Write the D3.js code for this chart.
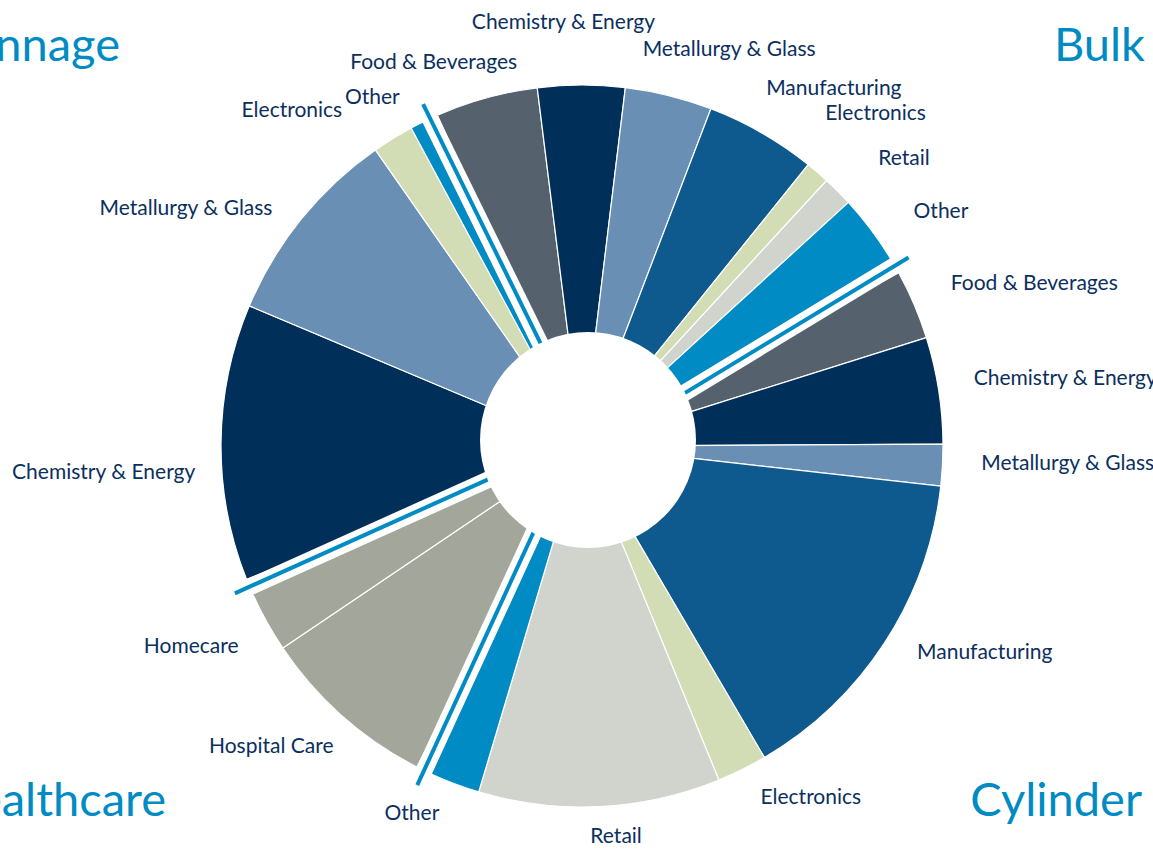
<!DOCTYPE html>
<html>
<head>
<meta charset="utf-8">
<script src="https://cdn.jsdelivr.net/npm/d3@7"></script>
<style>
  html, body { margin: 0; padding: 0; background: #fff; }
  svg { display: block; }
</style>
</head>
<body>
<svg id="chart" width="1153" height="849"></svg>
<script>
// ---- Data: sales share (%) by end-market, per business segment, clockwise from Bulk ----
const groupNames = ["Bulk", "Cylinder", "Healthcare", "Tonnage"];

const bulkSectors = ["Food & Beverages", "Chemistry & Energy", "Metallurgy & Glass", "Manufacturing", "Electronics", "Retail", "Other"];
const bulkShares  = [4.7, 4.0, 4.0, 5.1, 1.1, 1.4, 3.2];

const cylinderSectors = ["Food & Beverages", "Chemistry & Energy", "Metallurgy & Glass", "Manufacturing", "Electronics", "Retail", "Other"];
const cylinderShares  = [3.2, 4.9, 1.9, 15.2, 2.3, 11.1, 2.3];

const healthcareSectors = ["Hospital Care", "Homecare"];
const healthcareShares  = [8.2, 2.8];

const tonnageSectors = ["Chemistry & Energy", "Metallurgy & Glass", "Electronics", "Other"];
const tonnageShares  = [12.7, 9.2, 1.9, 0.6];

// ---- Styling ----
const sectorColors = {
  "Food & Beverages":   "#56616e",
  "Chemistry & Energy": "#00305a",
  "Metallurgy & Glass": "#6a8fb5",
  "Manufacturing":      "#0e5a8e",
  "Electronics":        "#d3ddb5",
  "Retail":             "#d1d4cd",
  "Other":              "#008bc5",
  "Hospital Care":      "#a3a69b",
  "Homecare":           "#a3a69b"
};
const accent = "#008bc5";
const labelColor = "#0b2f5e";

// ---- Geometry ----
const width = 1153, height = 849;
const cx = 582, cy = 446;
const outerR = 361, innerR = 92;
const holeCenter = [588, 440], holeR = 108;
const gapPx = 16;                     // width of the band between segments
const gapAngle = gapPx / outerR;      // angle the band takes at the rim
const rad = d => d * Math.PI / 180;
const startAngle = rad(-23.6);

// Label anchors: [angle in degrees clockwise from 12 o'clock, distance from centre]
const labelPolar = [
  [-21.1, 412], [-2.5, 425], [20.3, 424], [35.1, 438], [41.4, 444], [48.2, 432], [56.8, 429],
  [70.1, 481], [82.0, 488], [92.0, 486], [117.0, 452], [146.9, 419], [175.0, 391], [204.9, 404],
  [226.0, 432], [242.9, 439],
  [266.9, 479], [301.0, 462], [319.2, 444], [329.0, 407]
];

// Segment title placement (right edge x, baseline y)
const titlePlacement = {
  "Tonnage":    [120, 61],
  "Bulk":       [1145, 61],
  "Healthcare": [166, 816],
  "Cylinder":   [1142, 816]
};

const groups = [
  { name: "Bulk",       sectors: bulkSectors,       shares: bulkShares },
  { name: "Cylinder",   sectors: cylinderSectors,   shares: cylinderShares },
  { name: "Healthcare", sectors: healthcareSectors, shares: healthcareShares },
  { name: "Tonnage",    sectors: tonnageSectors,    shares: tonnageShares }
];

const total = d3.sum(groups, g => d3.sum(g.shares));
const perUnit = (2 * Math.PI - groups.length * gapAngle) / total;

// Lay each segment out with its own pie, leaving a band after each one
const slices = [];
const boundaries = [];
let a = startAngle;
groups.forEach(g => {
  const span = d3.sum(g.shares) * perUnit;
  const pie = d3.pie().sort(null).value(d => d.value).startAngle(a).endAngle(a + span);
  const items = g.sectors.map((s, i) => ({ group: g.name, sector: s, value: g.shares[i] }));
  slices.push(...pie(items));
  a += span;
  boundaries.push(a);
  a += gapAngle;
});

const svg = d3.select("#chart");
const g = svg.append("g").attr("transform", `translate(${cx},${cy})`);

const arc = d3.arc().innerRadius(innerR).outerRadius(outerR);

g.selectAll("path.slice")
  .data(slices)
  .join("path")
  .attr("class", "slice")
  .attr("d", arc)
  .attr("fill", d => sectorColors[d.data.sector])
  .attr("stroke", "#fff")
  .attr("stroke-width", 1.2)
  .attr("stroke-linejoin", "round");

// Bands between business segments, each with an accent rule along its middle
const polar = (ang, r) => [Math.sin(ang) * r, -Math.cos(ang) * r];
const sep = g.selectAll("g.sep").data(boundaries).join("g").attr("class", "sep");

sep.append("path")
  .attr("fill", "#fff")
  .attr("d", phi => {
    const u = [Math.sin(phi), -Math.cos(phi)];
    const n = [Math.cos(phi), Math.sin(phi)];
    const L = outerR + 4;
    const pts = [
      [0, 0],
      [u[0] * L, u[1] * L],
      [u[0] * L + n[0] * gapPx, u[1] * L + n[1] * gapPx],
      [n[0] * gapPx, n[1] * gapPx]
    ];
    return d3.line()(pts) + "Z";
  });

sep.append("line")
  .attr("stroke", accent)
  .attr("stroke-width", 4)
  .each(function (phi) {
    const u = [Math.sin(phi), -Math.cos(phi)];
    const n = [Math.cos(phi), Math.sin(phi)];
    const off = gapPx / 2;
    d3.select(this)
      .attr("x1", u[0] * 95 + n[0] * off)
      .attr("y1", u[1] * 95 + n[1] * off)
      .attr("x2", u[0] * 377 + n[0] * off)
      .attr("y2", u[1] * 377 + n[1] * off);
  });

// Centre hole
svg.append("circle")
  .attr("cx", holeCenter[0])
  .attr("cy", holeCenter[1])
  .attr("r", holeR)
  .attr("fill", "#fff");

// Sector labels
g.selectAll("text.label")
  .data(slices)
  .join("text")
  .attr("class", "label")
  .attr("transform", (d, i) => {
    const [deg, dist] = labelPolar[i];
    const [x, y] = polar(rad(deg), dist);
    return `translate(${x},${y})`;
  })
  .attr("text-anchor", "middle")
  .attr("dy", "0.35em")
  .attr("font-family", "Lato, 'Open Sans', sans-serif")
  .attr("font-size", 21)
  .attr("fill", labelColor)
  .text(d => d.data.sector);

// Segment titles
svg.selectAll("text.title")
  .data(groupNames)
  .join("text")
  .attr("class", "title")
  .attr("x", d => titlePlacement[d][0])
  .attr("y", d => titlePlacement[d][1])
  .attr("text-anchor", "end")
  .attr("font-family", "Lato, 'Open Sans', sans-serif")
  .attr("font-size", 47)
  .attr("fill", accent)
  .text(d => d);
</script>
</body>
</html>
